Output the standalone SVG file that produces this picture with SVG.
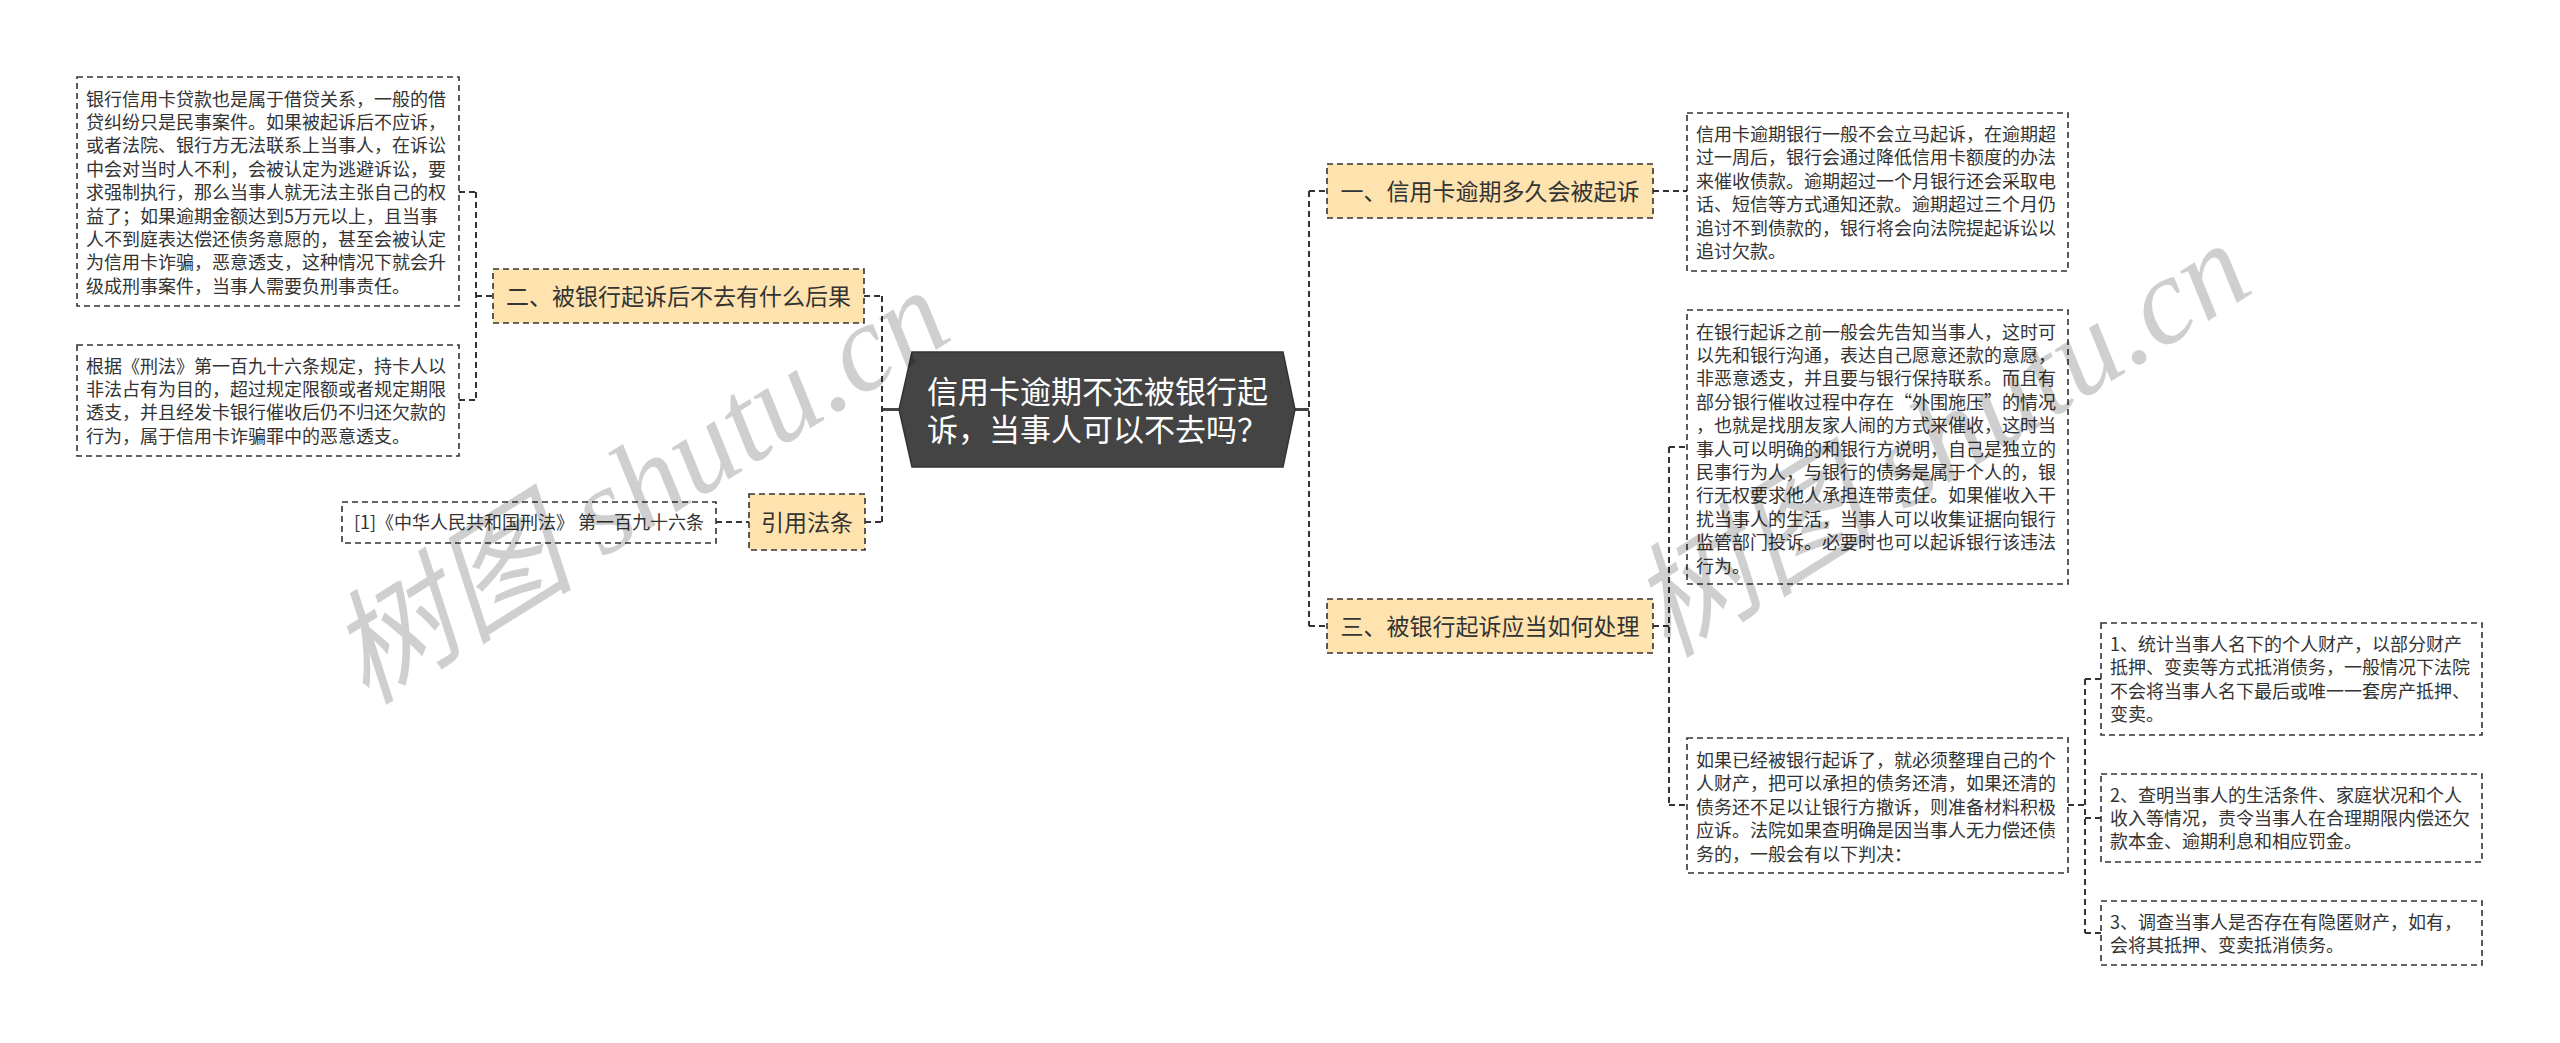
<svg xmlns="http://www.w3.org/2000/svg" width="2560" height="1043" viewBox="0 0 2560 1043">
<style>
.bg{fill:#ffffff}
.box{fill:#ffffff;stroke:#333333;stroke-width:1.6;stroke-dasharray:6 4}
.topic{fill:#fee3ae;stroke:#333333;stroke-width:1.6;stroke-dasharray:6 4}
.root{fill:#444444;stroke:#333333;stroke-width:1.5}
.t18{font-family:"Noto Sans CJK SC","Noto Sans",sans-serif;font-size:18px;fill:#333333}
.t23{font-family:"Noto Sans CJK SC","Noto Sans",sans-serif;font-size:23px;fill:#333333;text-anchor:middle}
.t31{font-family:"Noto Sans CJK SC","Noto Sans",sans-serif;font-size:31px;fill:#ffffff}
.conn{fill:none;stroke:#333333;stroke-width:2;stroke-dasharray:6 4}
.solid{fill:none;stroke:#444444;stroke-width:3}
.wm{font-family:"Liberation Serif","Noto Sans CJK SC",serif;font-style:italic;font-size:124px;fill:#000000;fill-opacity:0.19}
</style>
<rect class="bg" x="0" y="0" width="2560" height="1043"/>

<g id="connectors">
  <path class="solid" d="M883 409.5H899"/>
  <path class="solid" d="M1294 409.5H1309"/>
  <path class="conn" d="M882 296V522"/>
  <path class="conn" d="M864 296H882"/>
  <path class="conn" d="M865 522H882"/>
  <path class="conn" d="M476 192V400"/>
  <path class="conn" d="M476 296H493"/>
  <path class="conn" d="M459 192H476"/>
  <path class="conn" d="M459 400H476"/>
  <path class="conn" d="M716 522H749"/>
  <path class="conn" d="M1309 191V626"/>
  <path class="conn" d="M1309 191H1327"/>
  <path class="conn" d="M1309 626H1327"/>
  <path class="conn" d="M1653 191H1687"/>
  <path class="conn" d="M1669 447V805"/>
  <path class="conn" d="M1653 626H1669"/>
  <path class="conn" d="M1669 447H1687"/>
  <path class="conn" d="M1669 805H1687"/>
  <path class="conn" d="M2085 679V933"/>
  <path class="conn" d="M2068 805H2085"/>
  <path class="conn" d="M2085 679H2101"/>
  <path class="conn" d="M2085 818H2101"/>
  <path class="conn" d="M2085 933H2101"/>
</g>

<g id="root">
  <polygon class="root" points="912,352 1283,352 1295,409.5 1283,467 912,467 899,409.5"/>
  <text class="t31" x="927" y="403">信用卡逾期不还被银行起</text>
  <text class="t31" x="927" y="441">诉，当事人可以不去吗？</text>
</g>

<g id="topic-2">
  <rect class="topic" x="493" y="269" width="371" height="54"/>
  <text class="t23" x="678.5" y="304.5">二、被银行起诉后不去有什么后果</text>
</g>

<g id="note-2a">
  <rect class="box" x="77" y="77" width="382" height="229"/>
  <text class="t18" x="86">
    <tspan x="86" y="105.5">银行信用卡贷款也是属于借贷关系，一般的借</tspan>
    <tspan x="86" y="128.9">贷纠纷只是民事案件。如果被起诉后不应诉，</tspan>
    <tspan x="86" y="152.3">或者法院、银行方无法联系上当事人，在诉讼</tspan>
    <tspan x="86" y="175.7">中会对当时人不利，会被认定为逃避诉讼，要</tspan>
    <tspan x="86" y="199.1">求强制执行，那么当事人就无法主张自己的权</tspan>
    <tspan x="86" y="222.5">益了；如果逾期金额达到5万元以上，且当事</tspan>
    <tspan x="86" y="245.9">人不到庭表达偿还债务意愿的，甚至会被认定</tspan>
    <tspan x="86" y="269.3">为信用卡诈骗，恶意透支，这种情况下就会升</tspan>
    <tspan x="86" y="292.7">级成刑事案件，当事人需要负刑事责任。</tspan>
  </text>
</g>

<g id="note-2b">
  <rect class="box" x="77" y="345" width="382" height="111"/>
  <text class="t18" x="86">
    <tspan x="86" y="372.5">根据《刑法》第一百九十六条规定，持卡人以</tspan>
    <tspan x="86" y="395.9">非法占有为目的，超过规定限额或者规定期限</tspan>
    <tspan x="86" y="419.3">透支，并且经发卡银行催收后仍不归还欠款的</tspan>
    <tspan x="86" y="442.7">行为，属于信用卡诈骗罪中的恶意透支。</tspan>
  </text>
</g>

<g id="topic-law">
  <rect class="topic" x="749" y="494" width="116" height="56"/>
  <text class="t23" x="807" y="530.5">引用法条</text>
</g>

<g id="note-law">
  <rect class="box" x="342" y="502" width="374" height="41"/>
  <text class="t18" x="529" y="528.5" text-anchor="middle">[1]《中华人民共和国刑法》 第一百九十六条</text>
</g>

<g id="topic-1">
  <rect class="topic" x="1327" y="164" width="326" height="54"/>
  <text class="t23" x="1490" y="199.5">一、信用卡逾期多久会被起诉</text>
</g>

<g id="note-1">
  <rect class="box" x="1687" y="113" width="381" height="158"/>
  <text class="t18" x="1696">
    <tspan x="1696" y="141">信用卡逾期银行一般不会立马起诉，在逾期超</tspan>
    <tspan x="1696" y="164.4">过一周后，银行会通过降低信用卡额度的办法</tspan>
    <tspan x="1696" y="187.8">来催收债款。逾期超过一个月银行还会采取电</tspan>
    <tspan x="1696" y="211.2">话、短信等方式通知还款。逾期超过三个月仍</tspan>
    <tspan x="1696" y="234.6">追讨不到债款的，银行将会向法院提起诉讼以</tspan>
    <tspan x="1696" y="258">追讨欠款。</tspan>
  </text>
</g>

<g id="topic-3">
  <rect class="topic" x="1327" y="599" width="326" height="54"/>
  <text class="t23" x="1490" y="634.5">三、被银行起诉应当如何处理</text>
</g>

<g id="note-3a">
  <rect class="box" x="1687" y="310" width="381" height="274"/>
  <text class="t18" x="1696">
    <tspan x="1696" y="338.5">在银行起诉之前一般会先告知当事人，这时可</tspan>
    <tspan x="1696" y="361.9">以先和银行沟通，表达自己愿意还款的意愿，</tspan>
    <tspan x="1696" y="385.3">非恶意透支，并且要与银行保持联系。而且有</tspan>
    <tspan x="1696" y="408.7">部分银行催收过程中存在“外围施压”的情况</tspan>
    <tspan x="1696" y="432.1">，也就是找朋友家人闹的方式来催收，这时当</tspan>
    <tspan x="1696" y="455.5">事人可以明确的和银行方说明，自己是独立的</tspan>
    <tspan x="1696" y="478.9">民事行为人，与银行的债务是属于个人的，银</tspan>
    <tspan x="1696" y="502.3">行无权要求他人承担连带责任。如果催收入干</tspan>
    <tspan x="1696" y="525.7">扰当事人的生活，当事人可以收集证据向银行</tspan>
    <tspan x="1696" y="549.1">监管部门投诉。必要时也可以起诉银行该违法</tspan>
    <tspan x="1696" y="572.5">行为。</tspan>
  </text>
</g>

<g id="note-3b">
  <rect class="box" x="1687" y="738" width="381" height="135"/>
  <text class="t18" x="1696">
    <tspan x="1696" y="767">如果已经被银行起诉了，就必须整理自己的个</tspan>
    <tspan x="1696" y="790.4">人财产，把可以承担的债务还清，如果还清的</tspan>
    <tspan x="1696" y="813.8">债务还不足以让银行方撤诉，则准备材料积极</tspan>
    <tspan x="1696" y="837.2">应诉。法院如果查明确是因当事人无力偿还债</tspan>
    <tspan x="1696" y="860.6">务的，一般会有以下判决：</tspan>
  </text>
</g>

<g id="judgement-1">
  <rect class="box" x="2101" y="623" width="381" height="112"/>
  <text class="t18" x="2110">
    <tspan x="2110" y="651">1、统计当事人名下的个人财产，以部分财产</tspan>
    <tspan x="2110" y="674.4">抵押、变卖等方式抵消债务，一般情况下法院</tspan>
    <tspan x="2110" y="697.8">不会将当事人名下最后或唯一一套房产抵押、</tspan>
    <tspan x="2110" y="721.2">变卖。</tspan>
  </text>
</g>

<g id="judgement-2">
  <rect class="box" x="2101" y="774" width="381" height="88"/>
  <text class="t18" x="2110">
    <tspan x="2110" y="801.5">2、查明当事人的生活条件、家庭状况和个人</tspan>
    <tspan x="2110" y="824.9">收入等情况，责令当事人在合理期限内偿还欠</tspan>
    <tspan x="2110" y="848.3">款本金、逾期利息和相应罚金。</tspan>
  </text>
</g>

<g id="judgement-3">
  <rect class="box" x="2101" y="901" width="381" height="64"/>
  <text class="t18" x="2110">
    <tspan x="2110" y="928.5">3、调查当事人是否存在有隐匿财产，如有，</tspan>
    <tspan x="2110" y="951.9">会将其抵押、变卖抵消债务。</tspan>
  </text>
</g>

<g id="watermark">
  <text class="wm" transform="translate(366,706) rotate(-32)">树图 shutu.cn</text>
  <text class="wm" transform="translate(1667,659) rotate(-32)">树图 shutu.cn</text>
</g>
</svg>
